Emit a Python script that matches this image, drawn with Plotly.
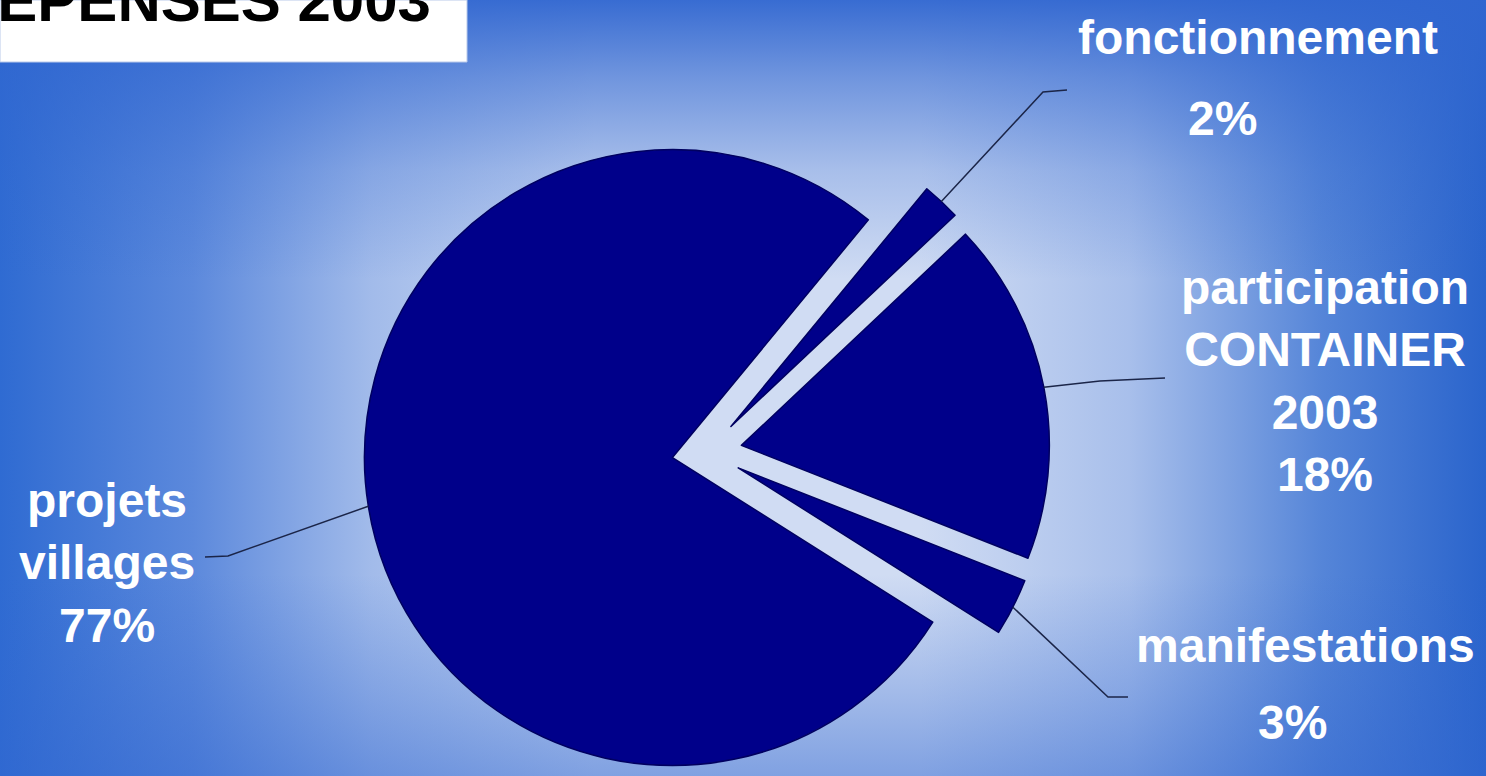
import base64
import math
import plotly.graph_objects as go

# ---------------- data ----------------
categories = ["fonctionnement", "participation CONTAINER 2003", "manifestations", "projets villages"]
values = [2, 18, 3, 77]
label_lines = [["fonctionnement"], ["participation", "CONTAINER", "2003"], ["manifestations"], ["projets", "villages"]]
title_text = "DÉPENSES 2003"

# ---------------- layout constants (pixels) ----------------
W, H = 1486, 776
CX, CY = 707, 452          # common pie centre
R = 308                    # pie radius
PULL_PX = 35               # explode distance
ROTATION = 39.5            # clockwise from 12 o'clock
NAVY = "#00008a"
EDGE = "#000060"

def px2paper(x, y):
    return x / W, 1 - y / H

total = sum(values)
fig = go.Figure()

# slice geometry from the data
bisect = []
start = ROTATION
for v in values:
    span = 360.0 * v / total
    th = math.radians(start + span / 2)
    bisect.append((math.sin(th), -math.cos(th)))
    start += span

for i, (dx, dy) in enumerate(bisect):
    cx = CX + PULL_PX * dx
    cy = CY + PULL_PX * dy
    colors = ["rgba(0,0,0,0)"] * len(values)
    lcolors = ["rgba(0,0,0,0)"] * len(values)
    colors[i] = NAVY
    lcolors[i] = EDGE
    fig.add_trace(go.Pie(
        labels=categories, values=values, sort=False, direction="clockwise",
        rotation=ROTATION, textinfo="none", hoverinfo="label+percent",
        marker=dict(colors=colors, line=dict(color=lcolors, width=1.5)),
        domain=dict(x=[(cx - R) / W, (cx + R) / W],
                    y=[max(0, 1 - (cy + R) / H), min(1, 1 - (cy - R) / H)]),
        showlegend=False,
    ))

# leader lines: from slice arc midpoint to label
elbows = [[(1043, 92), (1067, 90)],
          [(1100, 381), (1165, 378)],
          [(1108, 697), (1128, 697)],
          [(228, 556), (205, 557)]]
for i, (dx, dy) in enumerate(bisect):
    sx = CX + (PULL_PX + R) * dx
    sy = CY + (PULL_PX + R) * dy
    pts = [(sx, sy)] + elbows[i]
    path = "M " + " L ".join(f"{px2paper(x, y)[0]:.5f},{px2paper(x, y)[1]:.5f}" for x, y in pts)
    fig.add_shape(type="path", path=path, xref="paper", yref="paper",
                  line=dict(color="#1b2548", width=1.5))

pct = [f"{round(v / total * 100)}%" for v in values]
font = dict(family="Liberation Sans, Arial, sans-serif", size=48, color="white", weight="bold")

def ann(text, x, y):
    px, py = px2paper(x, y)
    fig.add_annotation(text=text, x=px, y=py, xref="paper", yref="paper",
                       xanchor="center", yanchor="middle", showarrow=False,
                       font=font, align="center")

ann(label_lines[0][0], 1258, 37)
ann(pct[0], 1222, 118)
ann("<br>".join(label_lines[1] + [pct[1]]), 1325, 381)
ann(label_lines[2][0], 1305, 645)
ann(pct[2], 1292, 722)
ann("<br>".join(label_lines[3] + [pct[3]]), 107, 563)

# title box (partially cut, as in the reference)
fig.add_shape(type="rect", xref="paper", yref="paper",
              x0=0, x1=467 / W, y0=1 - 62 / H, y1=1,
              fillcolor="white", line=dict(color="#b9c9ea", width=1))
fig.add_annotation(text=title_text, x=433 / W, y=1 + 0 / H, xref="paper", yref="paper",
                   xanchor="right", yanchor="middle", showarrow=False,
                   font=dict(family="Liberation Sans, Arial, sans-serif", size=60,
                             color="black", weight="bold"))

# background gradient (rectangular-like: horizontal gradient + vertical darkening)
svg = f'''<svg xmlns="http://www.w3.org/2000/svg" width="{W}" height="{H}" viewBox="0 0 {W} {H}" preserveAspectRatio="none">
<defs>
<linearGradient id="h" x1="0" y1="0" x2="1" y2="0">
<stop offset="0" stop-color="#2f6bd2"/>
<stop offset="0.13" stop-color="#5c89dc"/>
<stop offset="0.25" stop-color="#a2bbea"/>
<stop offset="0.40" stop-color="#d0dcf3"/>
<stop offset="0.62" stop-color="#d0dcf3"/>
<stop offset="0.76" stop-color="#a8bfeb"/>
<stop offset="0.89" stop-color="#5585d8"/>
<stop offset="1" stop-color="#2a64cc"/>
</linearGradient>
<linearGradient id="v" x1="0" y1="0" x2="0" y2="1">
<stop offset="0" stop-color="#3066d0" stop-opacity="0.95"/>
<stop offset="0.10" stop-color="#3066d0" stop-opacity="0.6"/>
<stop offset="0.22" stop-color="#3066d0" stop-opacity="0.25"/>
<stop offset="0.36" stop-color="#3066d0" stop-opacity="0"/>
<stop offset="0.74" stop-color="#3066d0" stop-opacity="0"/>
<stop offset="0.90" stop-color="#3066d0" stop-opacity="0.3"/>
<stop offset="1" stop-color="#3066d0" stop-opacity="0.5"/>
</linearGradient>
</defs>
<rect width="{W}" height="{H}" fill="url(#h)"/>
<rect width="{W}" height="{H}" fill="url(#v)"/></svg>'''
uri = "data:image/svg+xml;base64," + base64.b64encode(svg.encode()).decode()
fig.add_layout_image(source=uri, xref="paper", yref="paper", x=0, y=1,
                     sizex=1, sizey=1, xanchor="left", yanchor="top",
                     sizing="stretch", layer="below")

fig.update_layout(width=W, height=H, margin=dict(l=0, r=0, t=0, b=0),
                  paper_bgcolor="#2d64cc", plot_bgcolor="rgba(0,0,0,0)")

fig.write_html("out.html", config={"displayModeBar": False},
               post_script="document.body.style.margin='0px';")
